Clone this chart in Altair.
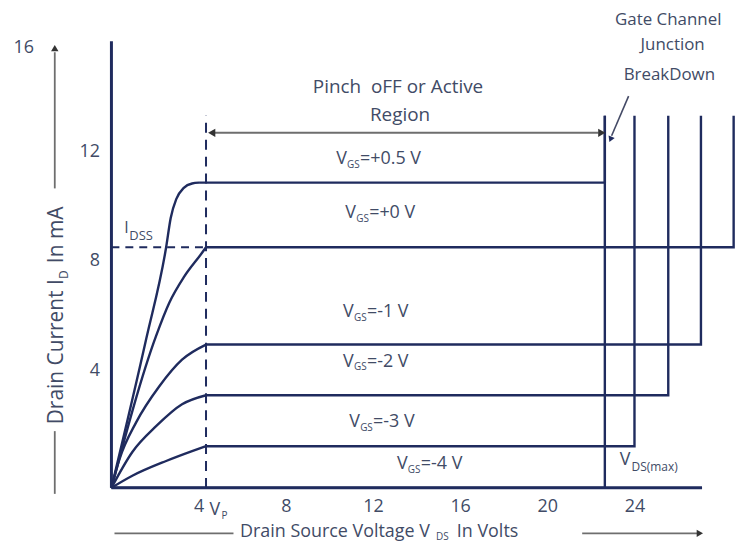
import altair as alt
import pandas as pd

# ---------------- data ----------------
vgs = ["+0.5", "+0", "-1", "-2", "-3", "-4"]
# ohmic region points (V_DS in V, I_D in mA)
ohmic_vds = {
    "+0.5": [0, 1.60, 2.51, 2.72, 2.98, 3.32, 3.70, 4.02],
    "+0": [0, 2.05, 2.65, 3.33, 4.15, 4.34],
    "-1": [0, 0.37, 1.14, 2.19, 3.24, 4.34],
    "-2": [0, 0.96, 2.05, 3.24, 4.34],
    "-3": [0, 0.96, 2.51, 3.70, 4.34],
    "-4": [0, 4.34],
}
ohmic_id = {
    "+0.5": [0, 5.45, 8.78, 9.85, 10.55, 10.95, 11.11, 11.14],
    "+0": [0, 5.55, 6.75, 7.70, 8.57, 8.78],
    "-1": [0, 1.05, 2.40, 3.70, 4.68, 5.23],
    "-2": [0, 1.31, 2.25, 3.05, 3.38],
    "-3": [0, 0.44, 0.98, 1.34, 1.52],
    "-4": [0, 0],
}
saturation_id = [11.14, 8.78, 5.23, 3.38, 1.52, 0.0]
breakdown_vds = [22.64, 28.55, 27.05, 25.55, 24.0, 22.64]
breakdown_top = 13.58
pinch_off_vds = 4.34
idss = 8.78

# curve labels
label_x = [10.31, 10.73, 10.63, 10.63, 10.91, 13.10]
label_y = [12.01, 10.02, 6.42, 4.61, 2.40, 0.87]

x_ticks = [4, 8, 12, 16, 20, 24]
y_ticks = [4, 8, 12]

# ---------------- styling ----------------
NAVY = "#1f2b5e"
TEXT = "#414b66"
GRAY = "#6e6e6e"
FONT = "Open Sans"

xs = alt.Scale(domain=[0, 28.75], nice=False, zero=False)
ys = alt.Scale(domain=[0, 16.3], nice=False, zero=False)
xaxis = alt.Axis(values=x_ticks, domain=False, ticks=False, grid=False, title=None,
                 labelFont=FONT, labelFontSize=18, labelColor=TEXT, labelPadding=10)
yaxis = alt.Axis(values=y_ticks, domain=False, ticks=False, grid=False, title=None,
                 labelFont=FONT, labelFontSize=18, labelColor=TEXT, labelPadding=12,
                 labelOffset=-8)


def X(f):
    return alt.X(f, type="quantitative", scale=xs, axis=xaxis)


def Y(f):
    return alt.Y(f, type="quantitative", scale=ys, axis=yaxis)


def X2(f):
    return alt.X2(f)


def Y2(f):
    return alt.Y2(f)


# ohmic curves
rows = []
for s in vgs:
    for i, (a, b) in enumerate(zip(ohmic_vds[s], ohmic_id[s])):
        rows.append({"s": s, "o": i, "x": a, "y": b})
ohmic_df = pd.DataFrame(rows)

# saturation + breakdown segments
rows = []
for s, lvl, bd in zip(vgs, saturation_id, breakdown_vds):
    kx = ohmic_vds[s][-1]
    rows.append({"s": s, "o": 0, "x": kx, "y": lvl})
    rows.append({"s": s, "o": 1, "x": bd, "y": lvl})
    rows.append({"s": s, "o": 2, "x": bd, "y": breakdown_top})
sat_df = pd.DataFrame(rows)

layers = []

layers.append(alt.Chart(ohmic_df).mark_line(interpolate="monotone", color=NAVY, strokeWidth=2.4).encode(
    x=X("x"), y=Y("y"), detail="s:N", order="o:Q"))
layers.append(alt.Chart(sat_df).mark_line(color=NAVY, strokeWidth=2.4).encode(
    x=X("x"), y=Y("y"), detail="s:N", order="o:Q"))

# axes lines
axes_df = pd.DataFrame({"x": [0, 0], "y": [0, 0], "x2": [0, 27.1], "y2": [16.3, 0]})
layers.append(alt.Chart(axes_df).mark_rule(color=NAVY, strokeWidth=3).encode(
    x=X("x"), y=Y("y"), x2=X2("x2"), y2=Y2("y2")))

# dashed pinch-off and IDSS lines
vdash = pd.DataFrame({"x": [pinch_off_vds], "y": [0], "y2": [breakdown_top]})
layers.append(alt.Chart(vdash).mark_rule(color=NAVY, strokeWidth=2, strokeDash=[10, 7]).encode(
    x=X("x"), y=Y("y"), y2=Y2("y2")))
hdash = pd.DataFrame({"x": [0], "x2": [pinch_off_vds - 0.1], "y": [idss]})
layers.append(alt.Chart(hdash).mark_rule(color=NAVY, strokeWidth=2, strokeDash=[8, 6]).encode(
    x=X("x"), x2=X2("x2"), y=Y("y")))

# active-region double arrow
arr = pd.DataFrame({"x": [4.75], "x2": [22.35], "y": [12.96]})
layers.append(alt.Chart(arr).mark_rule(color=GRAY, strokeWidth=2).encode(
    x=X("x"), x2=X2("x2"), y=Y("y")))
heads = pd.DataFrame({"x": [4.6, 22.5], "y": [12.96, 12.96], "sh": ["triangle-left", "triangle-right"]})
layers.append(alt.Chart(heads).mark_point(filled=True, size=70, color="#333333", opacity=1).encode(
    x=X("x"), y=Y("y"), shape=alt.Shape("sh:N", scale=None, legend=None)))

# breakdown pointer
ptr = pd.DataFrame({"x": [23.73], "y": [14.30], "x2": [22.95], "y2": [12.85]})
layers.append(alt.Chart(ptr).mark_rule(color="#444a66", strokeWidth=1.6).encode(
    x=X("x"), y=Y("y"), x2=X2("x2"), y2=Y2("y2")))
ptr_head = pd.DataFrame({"x": [22.90], "y": [12.72]})
layers.append(alt.Chart(ptr_head).mark_point(shape="triangle-up", angle=203, filled=True, size=45,
                                             color=NAVY, opacity=1).encode(x=X("x"), y=Y("y")))

# axis-title arrows
tl = pd.DataFrame({"x": [0.14, 21.6, -2.6, -2.6], "x2": [5.6, 26.9, -2.6, -2.6],
                   "y": [-1.66, -1.66, -0.22, 10.93], "y2": [-1.66, -1.66, 2.07, 15.9]})
layers.append(alt.Chart(tl).mark_rule(color=GRAY, strokeWidth=1.8).encode(
    x=X("x"), x2=X2("x2"), y=Y("y"), y2=Y2("y2")))
th = pd.DataFrame({"x": [27.0, -2.6], "y": [-1.66, 16.05], "sh": ["triangle-right", "triangle-up"]})
layers.append(alt.Chart(th).mark_point(filled=True, size=55, color="#333333", opacity=1).encode(
    x=X("x"), y=Y("y"), shape=alt.Shape("sh:N", scale=None, legend=None)))


def text_layer(df, size, color=TEXT, dx=0, dy=0, align="left", angle=0):
    return alt.Chart(df).mark_text(font=FONT, fontSize=size, color=color, dx=dx, dy=dy,
                                   align=align, baseline="middle", angle=angle).encode(
        x=X("x"), y=Y("y"), text="t:N")


# curve labels V_GS = ...
lab = pd.DataFrame({"x": label_x, "y": label_y, "t": ["V"] * len(vgs)})
layers.append(text_layer(lab, 18))
lab_sub = pd.DataFrame({"x": label_x, "y": label_y, "t": ["GS"] * len(vgs)})
layers.append(text_layer(lab_sub, 10, dx=11, dy=6))
lab_rest = pd.DataFrame({"x": label_x, "y": label_y, "t": ["=" + v + " V" for v in vgs]})
layers.append(text_layer(lab_rest, 18, dx=24))

# region text
reg = pd.DataFrame({"x": [13.15, 13.24], "y": [14.63, 13.61],
                    "t": ["Pinch\u00a0 oFF or Active", "Region"]})
layers.append(text_layer(reg, 19, align="center"))
gate = pd.DataFrame({"x": [25.55, 25.75, 25.6], "y": [17.06, 16.15, 15.06],
                     "t": ["Gate Channel", "Junction", "BreakDown"]})
layers.append(text_layer(gate, 17, align="center"))

# IDSS label
i1 = pd.DataFrame({"x": [0.59], "y": [9.5], "t": ["I"]})
layers.append(text_layer(i1, 16))
i2 = pd.DataFrame({"x": [0.59], "y": [9.5], "t": ["DSS"]})
layers.append(text_layer(i2, 13, dx=5, dy=8))

# VDS(max) label
v1 = pd.DataFrame({"x": [23.32], "y": [1.02], "t": ["V"]})
layers.append(text_layer(v1, 18))
v2 = pd.DataFrame({"x": [23.32], "y": [1.02], "t": ["DS(max)"]})
layers.append(text_layer(v2, 12, dx=12, dy=7))

# "4 Vp" tick label extras and the "16" label
vp1 = pd.DataFrame({"x": [4], "y": [-0.8], "t": ["V"]})
layers.append(text_layer(vp1, 18, dx=11))
vp2 = pd.DataFrame({"x": [4], "y": [-0.8], "t": ["P"]})
layers.append(text_layer(vp2, 10, dx=23, dy=6))
l16 = pd.DataFrame({"x": [-4.02], "y": [16.04], "t": ["16"]})
layers.append(text_layer(l16, 18, align="center"))

# x axis title
xt1 = pd.DataFrame({"x": [5.9], "y": [-1.63], "t": ["Drain Source Voltage V"]})
layers.append(text_layer(xt1, 18))
xt2 = pd.DataFrame({"x": [5.9], "y": [-1.63], "t": ["DS"]})
layers.append(text_layer(xt2, 10, dx=197, dy=5))
xt3 = pd.DataFrame({"x": [5.9], "y": [-1.63], "t": ["In Volts"]})
layers.append(text_layer(xt3, 18, dx=218))

# y axis title (rotated)
yt1 = pd.DataFrame({"x": [-2.5], "y": [2.32], "t": ["Drain Current I"]})
layers.append(text_layer(yt1, 21, angle=270))
yt2 = pd.DataFrame({"x": [-2.5], "y": [2.32], "t": ["D"]})
layers.append(text_layer(yt2, 12, dx=146, dy=7, angle=270))
yt3 = pd.DataFrame({"x": [-2.5], "y": [2.32], "t": ["In mA"]})
layers.append(text_layer(yt3, 21, dx=162, angle=270))

chart = alt.layer(*layers).properties(
    width=630, height=449,
    padding={"left": 104, "top": 32, "right": 0, "bottom": 55},
    autosize=alt.AutoSizeParams(type="none"),
    background="white",
).configure_view(stroke=None)

chart.save("out.html", embed_options={"renderer": "svg", "actions": False})
